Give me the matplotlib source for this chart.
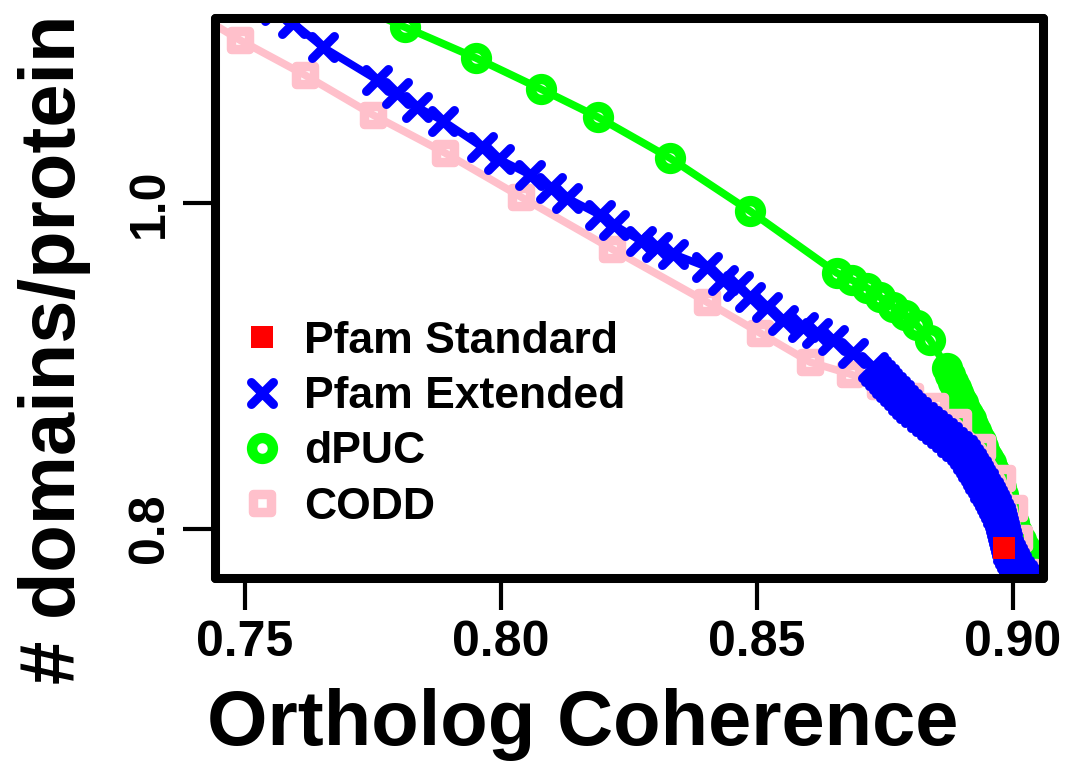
import matplotlib
matplotlib.use("Agg")
import matplotlib.pyplot as plt
from matplotlib.lines import Line2D
from matplotlib.markers import MarkerStyle

plt.rcParams["font.family"] = ["Liberation Sans", "DejaVu Sans"]
plt.rcParams["font.weight"] = "bold"

# values
std_x = [0.8982]
std_y = [0.7880]

ext_x = [0.7516, 0.7561, 0.7594, 0.7652, 0.7758, 0.7797, 0.7836, 0.7887,
         0.7963, 0.7996, 0.8057, 0.8098, 0.8129, 0.8193, 0.8221, 0.8273,
         0.8305, 0.8336, 0.8402, 0.8434, 0.8463, 0.8486, 0.8519, 0.8551,
         0.8590, 0.8617, 0.8648, 0.8687,
         0.8726, 0.8733, 0.8740, 0.8747, 0.8754, 0.8761, 0.8769, 0.8777,
         0.8785, 0.8793, 0.8801, 0.8811, 0.8822, 0.8832, 0.8842, 0.8851,
         0.8861, 0.8871, 0.8881, 0.8890, 0.8900, 0.8906, 0.8912, 0.8917,
         0.8922, 0.8927, 0.8932, 0.8936, 0.8941, 0.8946, 0.8951, 0.8955,
         0.8959, 0.8963, 0.8967, 0.8971, 0.8975, 0.8977, 0.8978, 0.8980,
         0.8982, 0.8984, 0.8986, 0.8988, 0.8990, 0.8994, 0.8998, 0.9002,
         0.9006, 0.9011, 0.9017, 0.9023, 0.9029]
ext_y = [1.1217, 1.1186, 1.1106, 1.0958, 1.0756, 1.0676, 1.0590, 1.0504,
         1.0344, 1.0270, 1.0172, 1.0092, 1.0031, 0.9926, 0.9865, 0.9767,
         0.9730, 0.9687, 0.9607, 0.9527, 0.9490, 0.9422, 0.9361, 0.9281,
         0.9238, 0.9201, 0.9158, 0.9078,
         0.8992, 0.8968, 0.8943, 0.8919, 0.8894, 0.8870, 0.8845, 0.8818,
         0.8790, 0.8765, 0.8740, 0.8713, 0.8685, 0.8660, 0.8636, 0.8611,
         0.8587, 0.8560, 0.8532, 0.8507, 0.8482, 0.8455, 0.8427, 0.8403,
         0.8378, 0.8354, 0.8329, 0.8305, 0.8280, 0.8252, 0.8224, 0.8200,
         0.8175, 0.8150, 0.8126, 0.8098, 0.8071, 0.8046, 0.8022, 0.7997,
         0.7972, 0.7948, 0.7923, 0.7896, 0.7868, 0.7844, 0.7819, 0.7795,
         0.7770, 0.7742, 0.7714, 0.7692, 0.7671]

dpuc_x = [0.7676, 0.7812, 0.7951, 0.8078, 0.8189, 0.8330, 0.8486, 0.8656,
          0.8685, 0.8715, 0.8740, 0.8766, 0.8789, 0.8812, 0.8838,
          0.8871, 0.8877, 0.8883, 0.8888, 0.8892, 0.8897, 0.8902, 0.8907,
          0.8912, 0.8917, 0.8922, 0.8927, 0.8932, 0.8937, 0.8941, 0.8946,
          0.8951, 0.8956, 0.8961, 0.8966, 0.8971, 0.8976, 0.8980, 0.8987,
          0.8994, 0.9001, 0.9008, 0.9016, 0.9023, 0.9030, 0.9037, 0.9043,
          0.9049]
dpuc_y = [1.1266, 1.1081, 1.0891, 1.0700, 1.0528, 1.0276, 0.9951, 0.9570,
          0.9527, 0.9478, 0.9422, 0.9361, 0.9312, 0.9250, 0.9158,
          0.8986, 0.8943, 0.8900, 0.8866, 0.8833, 0.8802, 0.8771, 0.8737,
          0.8704, 0.8670, 0.8636, 0.8602, 0.8568, 0.8535, 0.8501, 0.8467,
          0.8433, 0.8400, 0.8366, 0.8332, 0.8298, 0.8252, 0.8206, 0.8145,
          0.8083, 0.8031, 0.7979, 0.7930, 0.7880, 0.7837, 0.7794, 0.7745,
          0.7696]

codd_x = [0.7373, 0.7490, 0.7617, 0.7750, 0.7891, 0.8039, 0.8217, 0.8402,
          0.8506, 0.8603, 0.8682, 0.8740, 0.8799, 0.8848, 0.8892, 0.8940,
          0.8978, 0.9002, 0.9012, 0.9030]
codd_y = [1.1223, 1.1001, 1.0786, 1.0541, 1.0307, 1.0037, 0.9717, 0.9392,
          0.9201, 0.9023, 0.8949, 0.8876, 0.8814, 0.8753, 0.8654, 0.8501,
          0.8310, 0.8126, 0.7942, 0.7733]

x_ticks = [0.75, 0.80, 0.85, 0.90]
x_tick_labels = ["0.75", "0.80", "0.85", "0.90"]
y_ticks = [0.8, 1.0]
y_tick_labels = ["0.8", "1.0"]

labels = ["Pfam Standard", "Pfam Extended", "dPUC", "CODD"]

RED = "#FF0000"
BLUE = "#0000FF"
GREEN = "#00FF00"
PINK = "#FFC0CB"
LW = 5.5

styles = {
    "std": dict(color=RED, marker="s", markersize=15.5, markeredgewidth=0),
    "ext": dict(color=BLUE, marker=MarkerStyle("x", capstyle="round"),
                markersize=16, markeredgewidth=6.5),
    "dpuc": dict(color=GREEN, marker="o", markersize=15, markeredgewidth=7.5,
                 markerfacecolor="none"),
    "codd": dict(color=PINK, marker=MarkerStyle("s", joinstyle="round"),
                 markersize=12.5, markeredgewidth=6.8, markerfacecolor="none"),
}

fig = plt.figure(figsize=(10.66, 7.64), dpi=100)
ax = fig.add_axes([215 / 1066, 1 - 578 / 764, (1043 - 215) / 1066, (578 - 18) / 764])

line_kw = dict(linewidth=LW, solid_joinstyle="round", solid_capstyle="round", zorder=2)
ax.plot(dpuc_x, dpuc_y, **styles["dpuc"], **line_kw)
ax.plot(codd_x, codd_y, **styles["codd"], **line_kw)
ax.plot(ext_x, ext_y, **styles["ext"], **line_kw)
ax.plot(std_x, std_y, linestyle="none", zorder=2, **styles["std"])

ax.set_xlim(0.74414, 0.90585)
ax.set_ylim(0.76960, 1.11366)

for sp in ax.spines.values():
    sp.set_linewidth(6.5)
    sp.set_capstyle("round")
    sp.set_zorder(3)

ax.set_xticks(x_ticks)
ax.set_xticklabels(x_tick_labels, fontsize=36, fontweight="bold")
ax.set_yticks(y_ticks)
ax.set_yticklabels(y_tick_labels, fontsize=36, fontweight="bold",
                   rotation=90, va="center")
ax.tick_params(axis="both", direction="out", length=23, width=3, pad=7)

handles = [
    Line2D([], [], linestyle="none", **styles["std"]),
    Line2D([], [], linestyle="none", **styles["ext"]),
    Line2D([], [], linestyle="none", **styles["dpuc"]),
    Line2D([], [], linestyle="none", **styles["codd"]),
]
leg = ax.legend(handles, labels, loc="upper left", bbox_to_anchor=(0.0296, 0.4589),
                frameon=False, borderaxespad=0, borderpad=0, numpoints=1,
                handlelength=1.0, handletextpad=0.45, labelspacing=0.32,
                prop=dict(size=32, weight="bold"))

fig.text(583 / 1066, 1 - 745 / 764, "Ortholog Coherence", ha="center",
         va="baseline", fontsize=56, fontweight="bold")
fig.text(55 / 1066, 1 - 349 / 764, "# domains/protein", ha="center",
         va="center", rotation=90, fontsize=56, fontweight="bold")

fig.savefig("out.png", dpi=100)
